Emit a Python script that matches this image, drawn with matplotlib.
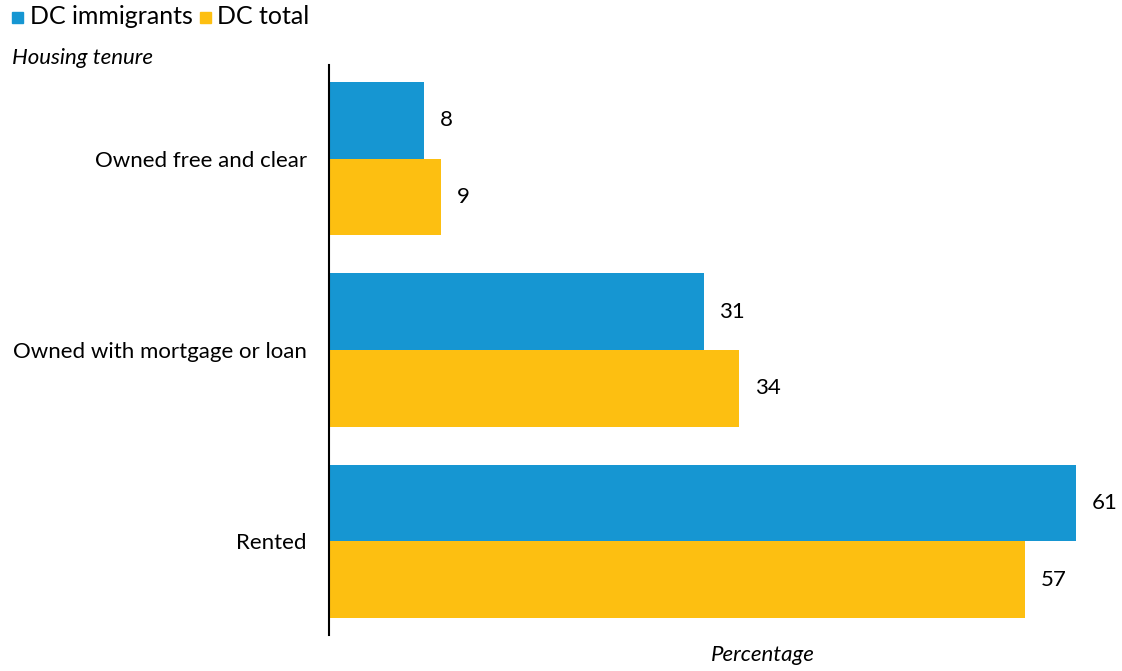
import numpy as np
import matplotlib.pyplot as plt
from matplotlib.patches import Rectangle

plt.rcParams['font.family'] = ['Lato', 'DejaVu Sans']

# data (bar lengths, labels shown rounded)
categories = ['Owned free and clear', 'Owned with mortgage or loan', 'Rented']
immigrants = [7.8, 30.7, 61.2]
dc_total = [9.2, 33.6, 57.0]

blue = '#1696d2'
yellow = '#fdbf11'

W, H = 1122, 671
fig = plt.figure(figsize=(11.22, 6.71), dpi=100)
ax = fig.add_axes([329 / W, 1 - 635 / H, (1110 - 329) / W, (635 - 65) / H])

y = np.arange(len(categories))
h = 0.4
ax.barh(y - h / 2, immigrants, height=h, color=blue)
ax.barh(y + h / 2, dc_total, height=h, color=yellow)

# value labels
for yi, v in zip(y, immigrants):
    ax.text(v + 1.3, yi - h / 2, f'{v:.0f}', va='center', ha='left', fontsize=16)
for yi, v in zip(y, dc_total):
    ax.text(v + 1.3, yi + h / 2, f'{v:.0f}', va='center', ha='left', fontsize=16)

ax.set_xlim(0, 64.0)
ax.set_ylim(2.49, -0.49)
ax.set_yticks(y)
ax.set_yticklabels(categories, fontsize=16)
ax.tick_params(axis='y', length=0, pad=16)
ax.set_xticks([])
for s in ['top', 'right', 'bottom']:
    ax.spines[s].set_visible(False)
ax.spines['left'].set_linewidth(1.5)

# legend drawn at the top left
fig.add_artist(Rectangle((12 / W, 1 - 23 / H), 11 / W, 11 / H, color=blue, transform=fig.transFigure))
fig.text(30 / W, 1 - 17 / H, 'DC immigrants', fontsize=18, va='center')
fig.add_artist(Rectangle((200 / W, 1 - 23 / H), 11 / W, 11 / H, color=yellow, transform=fig.transFigure))
fig.text(217 / W, 1 - 17 / H, 'DC total', fontsize=18, va='center')

fig.text(12 / W, 1 - 58 / H, 'Housing tenure', fontsize=16, style='italic', va='center')
fig.text(763 / W, 1 - 655 / H, 'Percentage', fontsize=16, style='italic', va='center', ha='center')

fig.savefig('out.png', dpi=100)
